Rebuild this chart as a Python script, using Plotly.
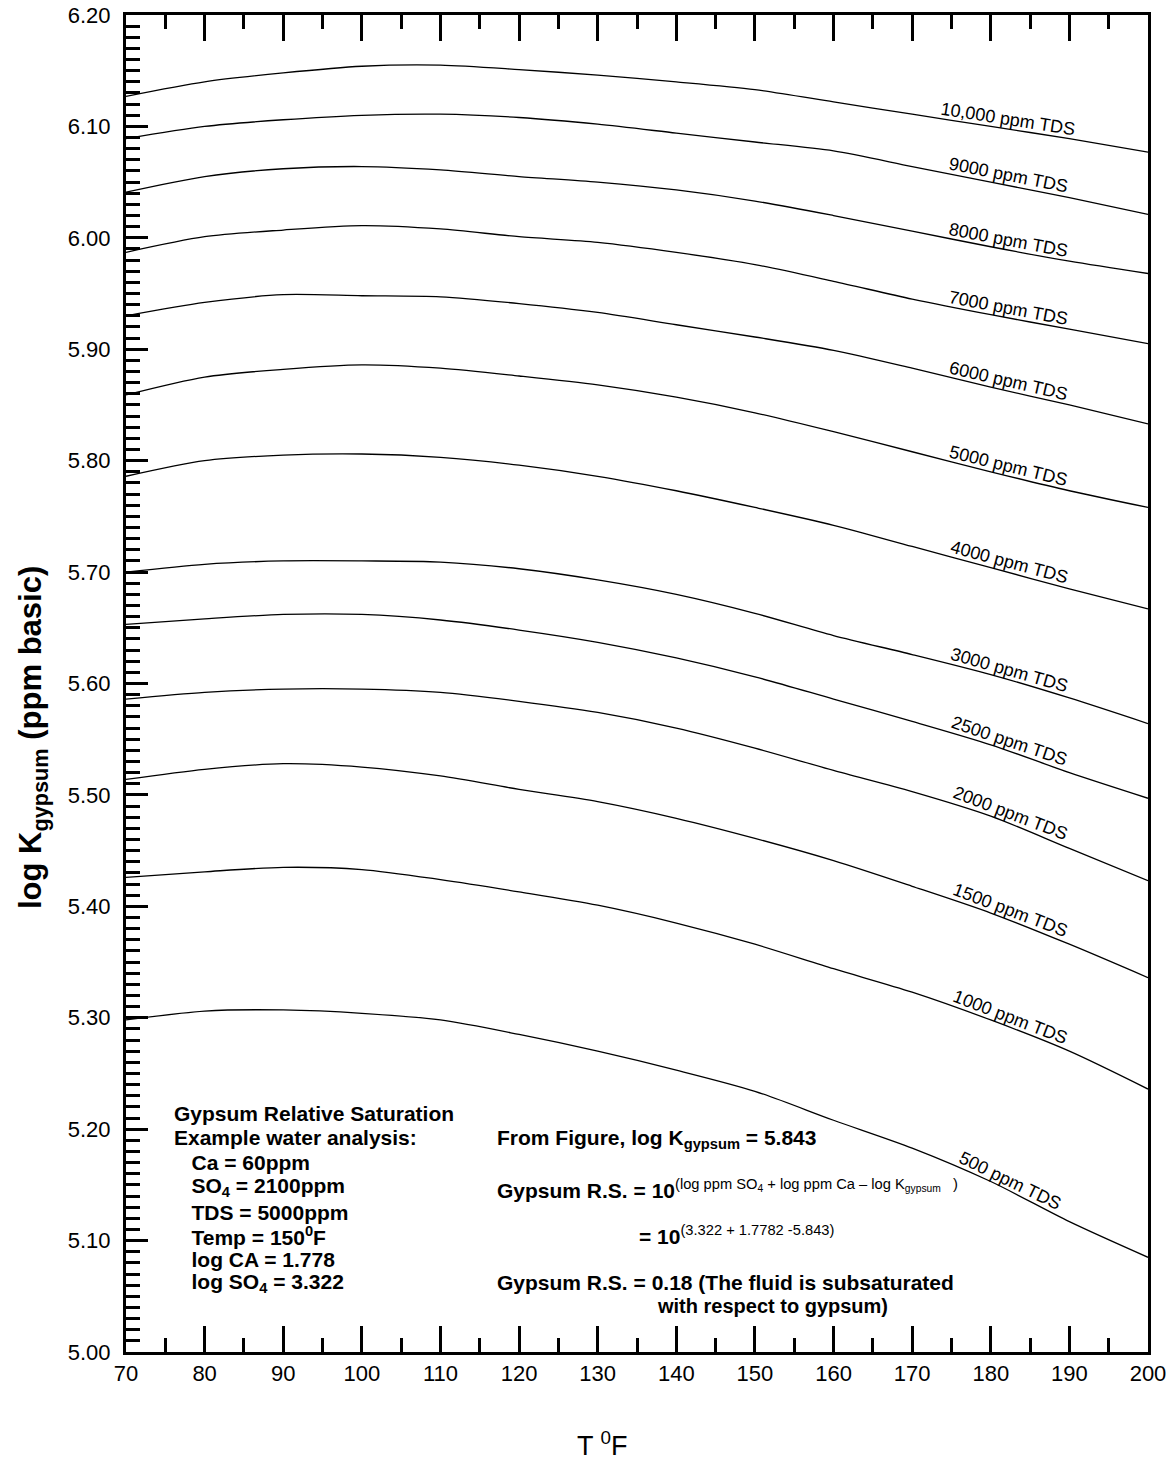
import numpy as np
import plotly.graph_objects as go

# ---------------- data ----------------
temps = [70, 80, 90, 100, 110, 120, 130, 140, 150, 160, 170, 180, 190, 200]

tds_labels = ["10,000 ppm TDS", "9000 ppm TDS", "8000 ppm TDS", "7000 ppm TDS",
              "6000 ppm TDS", "5000 ppm TDS", "4000 ppm TDS", "3000 ppm TDS",
              "2500 ppm TDS", "2000 ppm TDS", "1500 ppm TDS", "1000 ppm TDS",
              "500 ppm TDS"]

k_10000 = [6.127, 6.140, 6.148, 6.154, 6.155, 6.151, 6.146, 6.140, 6.133, 6.122, 6.111, 6.100, 6.089, 6.077]
k_9000  = [6.089, 6.100, 6.106, 6.110, 6.111, 6.108, 6.102, 6.094, 6.086, 6.078, 6.064, 6.050, 6.036, 6.021]
k_8000  = [6.041, 6.055, 6.062, 6.064, 6.061, 6.055, 6.050, 6.043, 6.033, 6.020, 6.006, 5.992, 5.979, 5.968]
k_7000  = [5.987, 6.001, 6.007, 6.011, 6.008, 6.001, 5.996, 5.987, 5.976, 5.961, 5.945, 5.931, 5.918, 5.905]
k_6000  = [5.930, 5.942, 5.949, 5.948, 5.947, 5.941, 5.933, 5.922, 5.911, 5.899, 5.883, 5.866, 5.850, 5.833]
k_5000  = [5.859, 5.875, 5.882, 5.886, 5.883, 5.876, 5.868, 5.857, 5.843, 5.826, 5.808, 5.790, 5.773, 5.758]
k_4000  = [5.786, 5.800, 5.805, 5.806, 5.803, 5.796, 5.786, 5.773, 5.758, 5.742, 5.723, 5.704, 5.685, 5.667]
k_3000  = [5.700, 5.707, 5.710, 5.710, 5.709, 5.703, 5.693, 5.680, 5.663, 5.643, 5.626, 5.608, 5.587, 5.564]
k_2500  = [5.653, 5.658, 5.662, 5.662, 5.657, 5.648, 5.637, 5.623, 5.606, 5.586, 5.566, 5.545, 5.520, 5.497]
k_2000  = [5.586, 5.592, 5.595, 5.595, 5.592, 5.584, 5.574, 5.560, 5.542, 5.522, 5.503, 5.481, 5.452, 5.423]
k_1500  = [5.514, 5.523, 5.528, 5.525, 5.517, 5.505, 5.494, 5.479, 5.461, 5.441, 5.418, 5.394, 5.366, 5.336]
k_1000  = [5.426, 5.431, 5.435, 5.433, 5.424, 5.413, 5.401, 5.385, 5.366, 5.344, 5.323, 5.298, 5.270, 5.236]
k_500   = [5.298, 5.306, 5.307, 5.304, 5.298, 5.285, 5.270, 5.253, 5.234, 5.208, 5.183, 5.153, 5.117, 5.085]

series = [k_10000, k_9000, k_8000, k_7000, k_6000, k_5000, k_4000,
          k_3000, k_2500, k_2000, k_1500, k_1000, k_500]

x_ticks = [70, 80, 90, 100, 110, 120, 130, 140, 150, 160, 170, 180, 190, 200]
y_ticks = [5.00, 5.10, 5.20, 5.30, 5.40, 5.50, 5.60, 5.70, 5.80, 5.90, 6.00, 6.10, 6.20]

# ---------------- layout geometry ----------------
W, H = 1175, 1464
ML, MR, MT, MB = 126, 27, 15, 112
PW, PH = W - ML - MR, H - MT - MB
XR = (70, 200)
YR = (5.0, 6.2)
px_per_x = PW / (XR[1] - XR[0])
px_per_y = PH / (YR[1] - YR[0])

FONT = "Arial, 'Liberation Sans', sans-serif"

def paper_x(px):
    return (px - ML) / PW

def paper_y(py):
    return (H - MB - py) / PH

fig = go.Figure()
for vals in series:
    fig.add_trace(go.Scatter(x=temps, y=vals, mode="lines",
                             line=dict(color="black", width=1.3, shape="spline", smoothing=0.8),
                             hoverinfo="skip", showlegend=False))

annotations = []

# curve labels placed along each curve
label_T = 182.0
for name, vals in zip(tds_labels, series):
    t = np.array(temps, dtype=float)
    v = np.array(vals, dtype=float)
    yv = float(np.interp(label_T, t, v))
    slope = (np.interp(label_T + 5, t, v) - np.interp(label_T - 5, t, v)) / 10.0
    ang = np.degrees(np.arctan(-slope * px_per_y / px_per_x))
    d = 10.0
    annotations.append(dict(
        x=label_T, y=yv, xref="x", yref="y", text=name, showarrow=False,
        textangle=ang, xanchor="center", yanchor="middle",
        xshift=d * np.sin(np.radians(ang)), yshift=d * np.cos(np.radians(ang)),
        font=dict(family=FONT, size=18, color="black")))

bold_l = dict(family=FONT, size=21, color="black")
bold_r = dict(family=FONT, size=21, color="black")

NB = "\u00a0\u00a0\u00a0"
left_lines = [
    (172, 1113, "<b>Gypsum Relative Saturation</b>"),
    (172, 1137, "<b>Example water analysis:</b>"),
    (172, 1162, "<b>" + NB + "Ca = 60ppm</b>"),
    (172, 1187, "<b>" + NB + "SO<sub>4</sub> = 2100ppm</b>"),
    (172, 1212, "<b>" + NB + "TDS = 5000ppm</b>"),
    (172, 1236, "<b>" + NB + "Temp = 150<sup>0</sup>F</b>"),
    (172, 1259, "<b>" + NB + "log CA = 1.778</b>"),
    (172, 1283, "<b>" + NB + "log SO<sub>4</sub> = 3.322</b>"),
]
for px, py, txt in left_lines:
    annotations.append(dict(x=paper_x(px), y=paper_y(py), xref="paper", yref="paper",
                            text=txt, showarrow=False, xanchor="left", yanchor="middle",
                            align="left", font=bold_l))

right_lines = [
    (495, 1139, "<b>From Figure, log K<sub>gypsum</sub> = 5.843</b>", 21),
    (495, 1189, "<b>Gypsum R.S. = 10</b><sup>(log ppm SO<sub>4</sub> + log ppm Ca \u2013 log K<sub>gypsum</sub>\u00a0\u00a0\u00a0)</sup>", 21),
    (637, 1235, "<b>= 10</b><sup>(3.322 + 1.7782 -5.843)</sup>", 21),
    (495, 1282, "<b>Gypsum R.S. = 0.18 (The fluid is subsaturated</b>", 21),
    (655, 1306, "<b>with respect to gypsum)</b>", 20),
]
for px, py, txt, fs in right_lines:
    annotations.append(dict(x=paper_x(px), y=paper_y(py), xref="paper", yref="paper",
                            text=txt, showarrow=False, xanchor="left", yanchor="middle",
                            align="left", font=dict(family=FONT, size=fs, color="black")))

# axis titles
annotations.append(dict(x=paper_x(33), y=paper_y(738), xref="paper", yref="paper",
                        text="<b>log K<sub>gypsum</sub> (ppm basic)</b>", textangle=-90,
                        showarrow=False, xanchor="center", yanchor="middle",
                        font=dict(family=FONT, size=31, color="black")))
annotations.append(dict(x=paper_x(602), y=paper_y(1444), xref="paper", yref="paper",
                        text="T <sup>0</sup>F", showarrow=False,
                        xanchor="center", yanchor="middle",
                        font=dict(family=FONT, size=27, color="black")))

fig.update_layout(
    width=W, height=H,
    margin=dict(l=ML, r=MR, t=MT, b=MB, pad=0, autoexpand=False),
    paper_bgcolor="white", plot_bgcolor="white",
    font=dict(family=FONT, color="black"),
    annotations=annotations,
    showlegend=False,
)

fig.update_xaxes(
    range=list(XR), tickvals=x_ticks, ticktext=[str(v) for v in x_ticks],
    ticks="inside", ticklen=26, tickwidth=2.5, tickcolor="black",
    minor=dict(dtick=5, tick0=70, ticks="inside", ticklen=14, tickwidth=2.5, tickcolor="black"),
    showline=True, linewidth=3, linecolor="black", mirror="ticks",
    showgrid=False, zeroline=False, automargin=False,
    tickfont=dict(family=FONT, size=22, color="black"), ticklabelstandoff=0,
)
fig.update_yaxes(
    range=list(YR), tickvals=y_ticks, ticktext=[f"{v:.2f}" for v in y_ticks],
    ticks="inside", ticklen=22, tickwidth=2.5, tickcolor="black",
    minor=dict(dtick=0.01, tick0=5.0, ticks="inside", ticklen=14, tickwidth=2.5, tickcolor="black"),
    showline=True, linewidth=3, linecolor="black", mirror=True,
    showgrid=False, zeroline=False, automargin=False,
    tickfont=dict(family=FONT, size=22, color="black"), ticklabelstandoff=8,
)

fig.write_html("out.html")
